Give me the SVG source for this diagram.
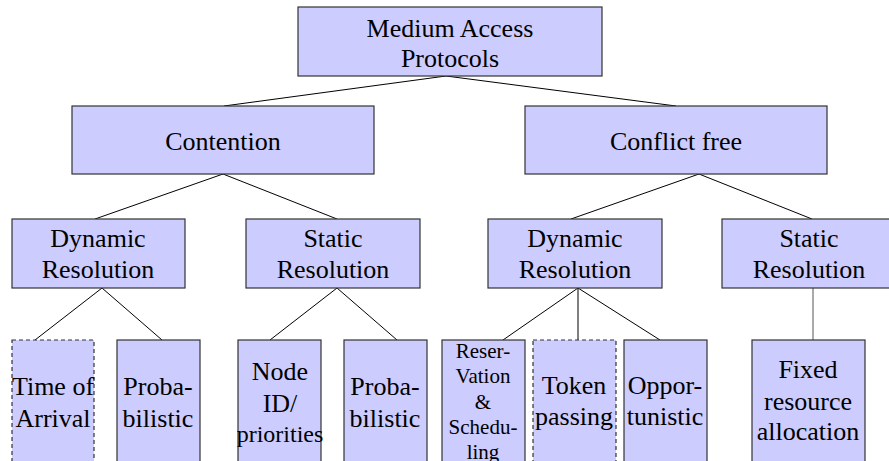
<svg xmlns="http://www.w3.org/2000/svg" width="889" height="461" viewBox="0 0 889 461" font-family="Liberation Serif, DejaVu Serif, serif">
<style>
.box{fill:#ccccff;stroke:#333333;stroke-width:1.2}
.dash{stroke-dasharray:4,3}
.t{font-size:26px;fill:#000;text-anchor:middle}
.sm{font-size:21px}
.pr{font-size:24px}
#connectors line{stroke:#000;stroke-width:1}
</style>
<rect width="889" height="461" fill="#fff"/>
<g id="connectors">
<line x1="446" y1="76" x2="224" y2="106"/>
<line x1="446" y1="76" x2="676" y2="106"/>
<line x1="223" y1="174" x2="95" y2="219"/>
<line x1="223" y1="174" x2="337" y2="219"/>
<line x1="699" y1="174" x2="571" y2="219"/>
<line x1="699" y1="174" x2="812" y2="219"/>
<line x1="102" y1="288" x2="35" y2="340"/>
<line x1="102" y1="288" x2="162" y2="340"/>
<line x1="337" y1="288" x2="270" y2="340"/>
<line x1="337" y1="288" x2="397" y2="340"/>
<line x1="578" y1="288" x2="503" y2="340"/>
<line x1="578" y1="288" x2="578" y2="340"/>
<line x1="578" y1="288" x2="660" y2="340"/>
<line x1="813" y1="288" x2="813" y2="340" style="stroke:#555"/>
</g>
<g id="root">
<rect class="box" x="298" y="7" width="304" height="69"/>
<text class="t" x="450" y="37" font-family="Liberation Serif">Medium Access</text>
<text class="t" x="450" y="67" font-family="Liberation Serif">Protocols</text>
</g>
<g id="contention">
<rect class="box" x="72" y="106" width="302" height="68"/>
<text class="t" x="223" y="150" font-family="Liberation Serif">Contention</text>
</g>
<g id="conflictfree">
<rect class="box" x="525" y="106" width="302" height="68"/>
<text class="t" x="676" y="150" font-family="Liberation Serif">Conflict free</text>
</g>
<g id="cont-dynamic">
<rect class="box" x="12" y="219" width="173" height="69"/>
<text class="t" x="98" y="247" font-family="Liberation Serif">Dynamic</text>
<text class="t" x="98" y="278" font-family="Liberation Serif">Resolution</text>
</g>
<g id="cont-static">
<rect class="box" x="246" y="219" width="174" height="69"/>
<text class="t" x="333" y="247" font-family="Liberation Serif">Static</text>
<text class="t" x="333" y="278" font-family="Liberation Serif">Resolution</text>
</g>
<g id="cf-dynamic">
<rect class="box" x="488" y="219" width="174" height="69"/>
<text class="t" x="575" y="247" font-family="Liberation Serif">Dynamic</text>
<text class="t" x="575" y="278" font-family="Liberation Serif">Resolution</text>
</g>
<g id="cf-static">
<rect class="box" x="722" y="219" width="174" height="69"/>
<text class="t" x="809" y="247" font-family="Liberation Serif">Static</text>
<text class="t" x="809" y="278" font-family="Liberation Serif">Resolution</text>
</g>
<g id="time-of-arrival">
<rect class="box dash" x="12" y="340" width="82" height="140"/>
<text class="t" x="53" y="395" font-family="Liberation Serif">Time of</text>
<text class="t" x="53" y="427" font-family="Liberation Serif">Arrival</text>
</g>
<g id="probabilistic-1">
<rect class="box" x="117" y="340" width="83" height="140"/>
<text class="t" x="158" y="395" font-family="Liberation Serif">Proba-</text>
<text class="t" x="158" y="427" font-family="Liberation Serif">bilistic</text>
</g>
<g id="node-id">
<rect class="box" x="238" y="340" width="83" height="140"/>
<text class="t" x="280" y="380" font-family="Liberation Serif">Node</text>
<text class="t" x="280" y="412" font-family="Liberation Serif">ID/</text>
<text class="t pr" x="280" y="442" font-family="Liberation Serif">priorities</text>
</g>
<g id="probabilistic-2">
<rect class="box" x="344" y="340" width="83" height="140"/>
<text class="t" x="385" y="395" font-family="Liberation Serif">Proba-</text>
<text class="t" x="385" y="427" font-family="Liberation Serif">bilistic</text>
</g>
<g id="reservation">
<rect class="box" x="442" y="340" width="83" height="140"/>
<text class="t sm" x="483" y="358" font-family="Liberation Serif">Reser-</text>
<text class="t sm" x="483" y="383" font-family="Liberation Serif">Vation</text>
<text class="t sm" x="483" y="409" font-family="Liberation Serif">&amp;</text>
<text class="t sm" x="483" y="434" font-family="Liberation Serif">Schedu-</text>
<text class="t sm" x="483" y="459" font-family="Liberation Serif">ling</text>
</g>
<g id="token-passing">
<rect class="box dash" x="533" y="340" width="83" height="140"/>
<text class="t" x="574" y="394" font-family="Liberation Serif">Token</text>
<text class="t" x="574" y="425" font-family="Liberation Serif">passing</text>
</g>
<g id="opportunistic">
<rect class="box" x="624" y="340" width="83" height="140"/>
<text class="t" x="665" y="394" font-family="Liberation Serif">Oppor-</text>
<text class="t" x="665" y="425" font-family="Liberation Serif">tunistic</text>
</g>
<g id="fixed">
<rect class="box" x="752" y="340" width="113" height="140"/>
<text class="t" x="808" y="378" font-family="Liberation Serif">Fixed</text>
<text class="t" x="808" y="410" font-family="Liberation Serif">resource</text>
<text class="t" x="808" y="440" font-family="Liberation Serif">allocation</text>
</g>
</svg>
